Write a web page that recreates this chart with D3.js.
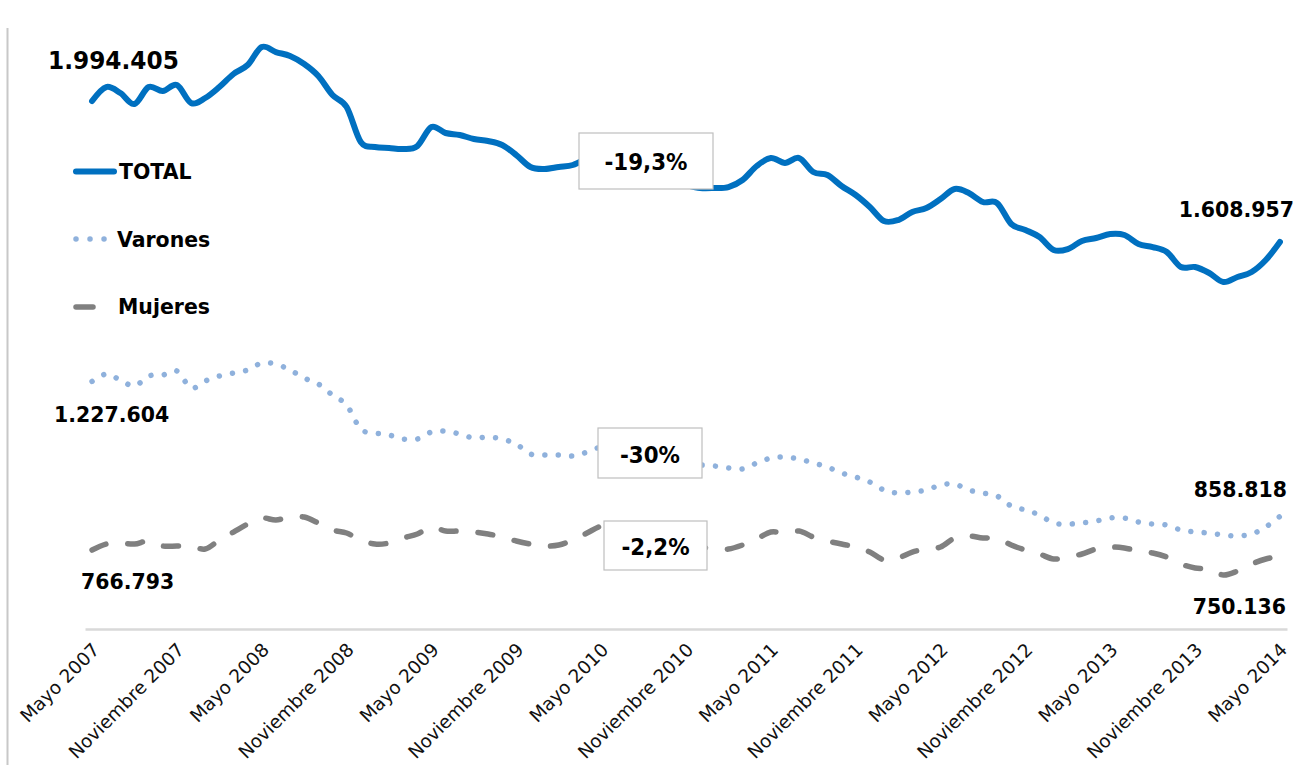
<!DOCTYPE html>
<html>
<head>
  <meta charset="utf-8">
  <script src="https://d3js.org/d3.v7.min.js"></script>
  <style>
    body { margin: 0; background: #fff; }
    text { font-family: "DejaVu Sans", Verdana, sans-serif; }
    .lbl { font-weight: bold; fill: #000; }
  </style>
</head>
<body>
<script>
  // afiliados, en miles, mayo 2007 - mayo 2014 (mensual)
  var meses = ["Enero","Febrero","Marzo","Abril","Mayo","Junio","Julio",
               "Agosto","Septiembre","Octubre","Noviembre","Diciembre"];

  var total = [1994.405, 2032.6, 2016.2, 1986.2, 2032.6, 2021.7, 2038.1, 1988.9, 2002.6, 2032.6,
               2068.2, 2092.8, 2142.0, 2128.3, 2117.4, 2095.5, 2062.7, 2010.8, 1978.0, 1882.3,
               1868.6, 1865.9, 1863.1, 1871.3, 1923.3, 1906.9, 1901.4, 1890.5, 1885.0, 1874.1,
               1846.7, 1813.9, 1808.5, 1813.9, 1819.4, 1838.5, 1854.9, 1846.7, 1827.6, 1805.7,
               1789.3, 1775.6, 1764.7, 1756.5, 1756.5, 1759.2, 1778.4, 1816.7, 1838.5, 1824.9,
               1838.5, 1800.3, 1792.0, 1762.0, 1737.4, 1704.6, 1666.3, 1669.0, 1690.9, 1701.8,
               1726.4, 1753.8, 1742.8, 1718.2, 1715.5, 1658.1, 1641.7, 1622.5, 1587.0, 1589.7,
               1611.6, 1619.8, 1630.7, 1628.0, 1603.4, 1595.2, 1581.5, 1540.5, 1540.5, 1524.1,
               1499.5, 1513.2, 1526.9, 1559.7, 1608.957];

  var varones = [1227.604, 1248.0, 1231.6, 1215.2, 1242.5, 1245.2, 1256.2, 1209.7, 1228.8, 1242.5,
                 1250.7, 1258.9, 1278.1, 1275.3, 1258.9, 1237.0, 1220.6, 1190.6, 1163.2, 1097.6,
                 1086.7, 1081.2, 1070.3, 1070.3, 1089.4, 1092.1, 1083.9, 1073.0, 1075.7, 1070.3,
                 1056.6, 1029.3, 1026.5, 1026.5, 1023.8, 1034.7, 1048.4, 1045.7, 1034.7, 1023.8,
                 1012.9, 1004.7, 999.2, 999.2, 996.5, 991.0, 988.3, 1004.7, 1018.3, 1021.1,
                 1015.6, 1004.7, 993.7, 977.3, 966.4, 952.7, 930.8, 922.6, 925.4, 930.8,
                 944.5, 947.2, 930.8, 922.6, 914.4, 887.1, 876.2, 862.5, 840.6, 837.9,
                 840.6, 846.1, 854.3, 854.3, 843.4, 837.9, 835.1, 821.5, 816.0, 813.3,
                 807.8, 805.1, 810.5, 829.7, 858.818];

  var mujeres = [766.793, 783.2, 785.9, 783.2, 791.4, 777.7, 777.7, 777.7, 769.5, 794.1,
                 816.0, 837.9, 854.3, 848.8, 857.0, 857.0, 840.6, 821.5, 813.3, 794.1,
                 783.2, 785.9, 799.6, 810.5, 829.7, 818.7, 818.7, 816.0, 810.5, 802.3,
                 791.4, 783.2, 777.7, 780.5, 794.1, 813.3, 832.4, 837.9, 832.4, 818.7,
                 802.3, 788.7, 780.5, 775.0, 769.5, 769.5, 780.5, 796.9, 816.0, 813.3,
                 818.7, 802.3, 791.4, 783.2, 775.0, 761.3, 739.5, 744.9, 761.3, 769.5,
                 775.0, 799.6, 805.1, 799.6, 799.6, 780.5, 766.8, 755.9, 742.2, 747.7,
                 755.9, 769.5, 775.0, 772.3, 764.1, 758.6, 747.7, 728.5, 717.6, 714.9,
                 698.4, 709.4, 728.5, 742.2, 750.136];

  var tickLabels = ["Mayo 2007","Noviembre 2007","Mayo 2008","Noviembre 2008","Mayo 2009",
                    "Noviembre 2009","Mayo 2010","Noviembre 2010","Mayo 2011","Noviembre 2011",
                    "Mayo 2012","Noviembre 2012","Mayo 2013","Noviembre 2013","Mayo 2014"];

  var variaciones = ["-19,3%", "-30%", "-2,2%"];
  var extremos = ["1.994.405", "1.608.957", "1.227.604", "858.818", "766.793", "750.136"];

  // one category per month, may 2007 .. may 2014
  var categorias = [];
  for (var i = 0; i < total.length; i++) {
    var m = (4 + i) % 12, a = 2007 + Math.floor((4 + i) / 12);
    categorias.push(meses[m] + " " + a);
  }

  var W = 1302, H = 765;
  var svg = d3.select("body").append("svg").attr("width", W).attr("height", H);

  var x = d3.scalePoint().domain(categorias).range([85, 1287]).padding(0.5);
  var y = d3.scaleLinear().domain([553.6, 2188.5]).range([628, 30]);

  // slide frame line on the left
  svg.append("line").attr("x1", 7.5).attr("x2", 7.5).attr("y1", 28).attr("y2", H)
    .attr("stroke", "#c8c8c8").attr("stroke-width", 2);

  // x axis
  var xAxis = d3.axisBottom(x)
    .tickValues(tickLabels)
    .tickSize(0)
    .tickFormat(function (d) { return d; });
  var gx = svg.append("g").attr("transform", "translate(0,629)").call(xAxis);
  gx.attr("font-size", null).attr("font-family", null);
  gx.select(".domain").attr("stroke", "#d9d9d9").attr("stroke-width", 2.5);
  gx.selectAll(".tick text")
    .style("font-size", "18.5px")
    .style("fill", "#111")
    .attr("text-anchor", "end")
    .attr("y", 0).attr("dy", 0)
    .attr("transform", "translate(8,22) rotate(-45)");

  var line = d3.line()
    .x(function (d, i) { return x(categorias[i]); })
    .y(function (d) { return y(d); })
    .curve(d3.curveCardinal);

  svg.append("path").datum(mujeres).attr("d", line)
    .attr("fill", "none").attr("stroke", "#808080").attr("stroke-width", 5.5)
    .attr("stroke-linecap", "round").attr("stroke-dasharray", "15,22");

  svg.append("path").datum(varones).attr("d", line)
    .attr("fill", "none").attr("stroke", "#8fb1dc").attr("stroke-width", 5.5)
    .attr("stroke-linecap", "round").attr("stroke-dasharray", "0.01,13.4");

  svg.append("path").datum(total).attr("d", line)
    .attr("fill", "none").attr("stroke", "#0070c0").attr("stroke-width", 6)
    .attr("stroke-linecap", "round").attr("stroke-linejoin", "round");

  // condensed bold text helper
  function label(txt, px, py, size, anchor) {
    svg.append("text").attr("class", "lbl")
      .attr("transform", "translate(" + px + "," + py + ") scale(0.93,1)")
      .attr("text-anchor", anchor || "start")
      .style("font-size", size + "px")
      .text(txt);
  }

  // variation boxes
  var boxes = [
    { t: variaciones[0], x0: 579, y0: 133, x1: 713, y1: 189, by: 170 },
    { t: variaciones[1], x0: 598, y0: 428, x1: 702, y1: 478, by: 463 },
    { t: variaciones[2], x0: 604, y0: 521, x1: 707, y1: 570, by: 555 }
  ];
  boxes.forEach(function (b) {
    svg.append("rect").attr("x", b.x0).attr("y", b.y0)
      .attr("width", b.x1 - b.x0).attr("height", b.y1 - b.y0)
      .attr("fill", "#fff").attr("stroke", "#bfbfbf").attr("stroke-width", 1.2);
    label(b.t, (b.x0 + b.x1) / 2, b.by, 23, "middle");
  });

  // end labels
  label(extremos[0], 48, 69, 25);
  label(extremos[1], 1294, 217, 22, "end");
  label(extremos[2], 54, 422, 22);
  label(extremos[3], 1287, 497, 22, "end");
  label(extremos[4], 81, 589, 22);
  label(extremos[5], 1286, 614, 22, "end");

  // legend
  svg.append("line").attr("x1", 76).attr("x2", 114).attr("y1", 171.5).attr("y2", 171.5)
    .attr("stroke", "#0070c0").attr("stroke-width", 6).attr("stroke-linecap", "round");
  svg.append("line").attr("x1", 76).attr("x2", 105).attr("y1", 239).attr("y2", 239)
    .attr("stroke", "#8fb1dc").attr("stroke-width", 5.5).attr("stroke-linecap", "round")
    .attr("stroke-dasharray", "0.01,14");
  svg.append("line").attr("x1", 76).attr("x2", 93).attr("y1", 307).attr("y2", 307)
    .attr("stroke", "#808080").attr("stroke-width", 5.5).attr("stroke-linecap", "round");
  label("TOTAL", 119, 179, 22);
  label("Varones", 117, 247, 22);
  label("Mujeres", 118, 314, 22);
</script>
</body>
</html>
